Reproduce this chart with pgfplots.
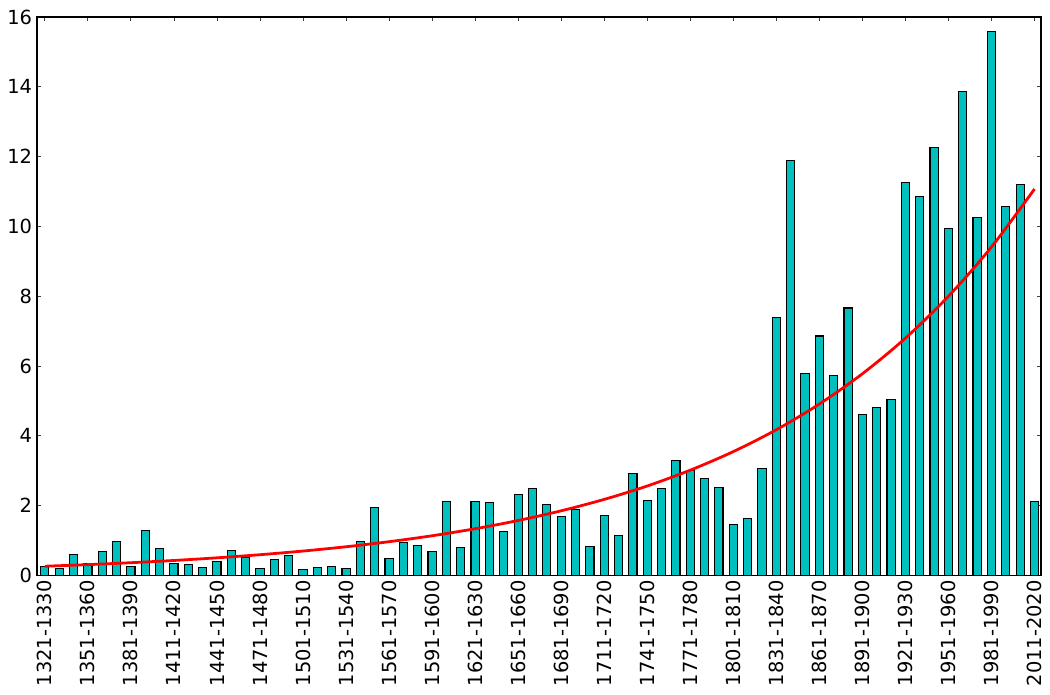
\documentclass[border=0pt]{standalone}
\usepackage{fontspec}
\setmainfont{DejaVu Sans}
\usepackage{pgfplots}
\pgfplotsset{compat=1.18}
\definecolor{barc}{rgb}{0,0.75,0.75}
\begin{document}
\begin{tikzpicture}
\useasboundingbox (-26.6pt,-86pt) rectangle (729.4pt,414.3pt);
\begin{axis}[
  at={(0pt,0pt)}, anchor=south west,
  scale only axis, width=722.9pt, height=402.1pt,
  xmin=-0.55, xmax=69.45, ymin=0, ymax=16,
  ytick={0,2,...,16},
  xtick={0,3,...,69},
  xticklabels={1321-1330,1351-1360,1381-1390,1411-1420,1441-1450,1471-1480,1501-1510,1531-1540,1561-1570,1591-1600,1621-1630,1651-1660,1681-1690,1711-1720,1741-1750,1771-1780,1801-1810,1831-1840,1861-1870,1891-1900,1921-1930,1951-1960,1981-1990,2011-2020},
  xticklabel style={rotate=90, anchor=east},
  tick align=inside, tick pos=both,
  major tick length=3pt,
  every tick/.style={black!75, line width=0.6pt},
  axis line style={line width=0.9pt},
  tick label style={font=\fontsize{14}{16}\selectfont},
  /pgf/number format/assume math mode=true,
  clip=false,
]
\addplot[ybar, bar width=0.57, fill=barc, draw=black, line width=0.8pt] coordinates {
(0,0.26) (1,0.21) (2,0.61) (3,0.35) (4,0.69) (5,0.98) (6,0.26) (7,1.29) (8,0.78) (9,0.35)
(10,0.32) (11,0.23) (12,0.41) (13,0.72) (14,0.52) (15,0.21) (16,0.46) (17,0.58) (18,0.18) (19,0.23)
(20,0.26) (21,0.21) (22,0.98) (23,1.95) (24,0.49) (25,0.95) (26,0.86) (27,0.69) (28,2.12) (29,0.81)
(30,2.12) (31,2.09) (32,1.26) (33,2.32) (34,2.49) (35,2.03) (36,1.69) (37,1.89) (38,0.83) (39,1.72)
(40,1.15) (41,2.92) (42,2.15) (43,2.49) (44,3.29) (45,3.01) (46,2.78) (47,2.52) (48,1.46) (49,1.63)
(50,3.06) (51,7.38) (52,11.89) (53,5.78) (54,6.86) (55,5.72) (56,7.66) (57,4.61) (58,4.81) (59,5.03)
(60,11.25) (61,10.86) (62,12.27) (63,9.95) (64,13.87) (65,10.26) (66,15.58) (67,10.58) (68,11.19) (69,2.12)
};
\addplot[red, line width=2pt, smooth, no markers] coordinates {
(0,0.263) (3,0.309) (6,0.364) (9,0.428) (12,0.504) (15,0.593) (18,0.698) (21,0.821)
(24,0.966) (27,1.136) (30,1.337) (33,1.573) (36,1.851) (39,2.178) (42,2.562) (45,3.015)
(48,3.547) (51,4.173) (54,4.910) (57,5.777) (60,6.797) (63,7.997) (66,9.410) (69,11.07)
};
\end{axis}
\end{tikzpicture}
\end{document}
